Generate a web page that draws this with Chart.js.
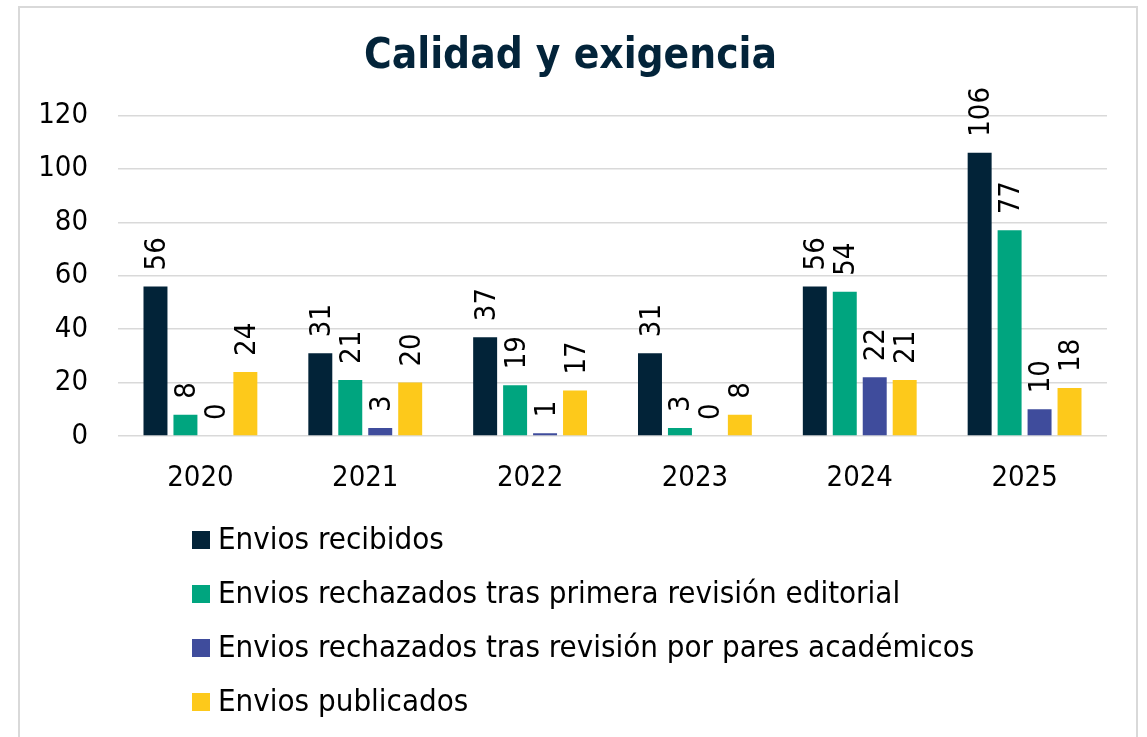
<!DOCTYPE html>
<html>
<head>
<meta charset="utf-8">
<script src="https://cdn.jsdelivr.net/npm/chart.js@4/dist/chart.umd.min.js"></script>
<style>
  html, body { margin: 0; padding: 0; background: #fff; }
  #frame {
    position: absolute; left: 18px; top: 6px; width: 1120px; height: 760px;
    border: 2px solid #d9d9d9; box-sizing: border-box; pointer-events: none;
  }
  #chart { position: absolute; left: 0; top: 0; }
</style>
</head>
<body>
<div id="frame"></div>
<canvas id="chart" width="1147" height="737"></canvas>
<script>
// Data
const years = ['2020', '2021', '2022', '2023', '2024', '2025'];
const recibidos = [56, 31, 37, 31, 56, 106];
const rechazadosEditorial = [8, 21, 19, 3, 54, 77];
const rechazadosPares = [0, 3, 1, 0, 22, 10];
const publicados = [24, 20, 17, 8, 21, 18];

const seriesNames = [
  'Envios recibidos',
  'Envios rechazados tras primera revisión editorial',
  'Envios rechazados tras revisión por pares académicos',
  'Envios publicados'
];
const seriesColors = ['#022338', '#00a57f', '#3f4c9c', '#fdc91b'];

const FONT = '"DejaVu Sans Condensed", "DejaVu Sans", sans-serif';

// Rotated value labels above each bar
const barLabels = {
  id: 'barLabels',
  afterDatasetsDraw(chart) {
    const ctx = chart.ctx;
    ctx.save();
    ctx.font = '29px ' + FONT;
    ctx.fillStyle = '#000';
    ctx.textAlign = 'left';
    ctx.textBaseline = 'middle';
    chart.data.datasets.forEach((ds, i) => {
      chart.getDatasetMeta(i).data.forEach((bar, j) => {
        ctx.save();
        ctx.translate(bar.x + 2, bar.y - 16);
        ctx.rotate(-Math.PI / 2);
        ctx.fillText(String(ds.data[j]), 0, 0);
        ctx.restore();
      });
    });
    ctx.restore();
  }
};

// Vertical legend list under the x axis
const listLegend = {
  id: 'listLegend',
  afterDraw(chart) {
    const ctx = chart.ctx;
    ctx.save();
    ctx.font = '31px ' + FONT;
    ctx.textAlign = 'left';
    ctx.textBaseline = 'middle';
    chart.data.datasets.forEach((ds, i) => {
      const y = 540 + i * 54;
      ctx.fillStyle = ds.backgroundColor;
      ctx.fillRect(192, y - 9, 18, 18);
      ctx.fillStyle = '#000';
      ctx.fillText(ds.label, 218, y + 1);
    });
    ctx.restore();
  }
};

const seriesData = [recibidos, rechazadosEditorial, rechazadosPares, publicados];

new Chart(document.getElementById('chart').getContext('2d'), {
  type: 'bar',
  data: {
    labels: years,
    datasets: seriesData.map((d, i) => ({
      label: seriesNames[i],
      data: d,
      backgroundColor: seriesColors[i],
      borderWidth: 0,
      categoryPercentage: 0.727,
      barPercentage: 0.8
    }))
  },
  options: {
    responsive: false,
    animation: false,
    devicePixelRatio: 1,
    layout: {
      padding: { top: 19, left: 34, right: 40, bottom: 241 }
    },
    plugins: {
      legend: { display: false },
      tooltip: { enabled: false },
      title: {
        display: true,
        text: 'Calidad y exigencia',
        color: '#03243a',
        font: { family: FONT, size: 42, weight: 'bold' },
        padding: { top: 13, bottom: 33 }
      }
    },
    scales: {
      x: {
        grid: { display: false },
        border: { display: false },
        ticks: { color: '#000', font: { family: FONT, size: 29 }, padding: 17 },
        afterFit(scale) { scale.height = 60; }
      },
      y: {
        min: 0,
        max: 120,
        grid: { color: '#d9d9d9', lineWidth: 1.5, drawTicks: false },
        border: { display: false },
        ticks: { stepSize: 20, color: '#000', font: { family: FONT, size: 29 }, padding: 30 },
        afterFit(scale) { scale.width = 84; }
      }
    }
  },
  plugins: [barLabels, listLegend]
});
</script>
</body>
</html>
